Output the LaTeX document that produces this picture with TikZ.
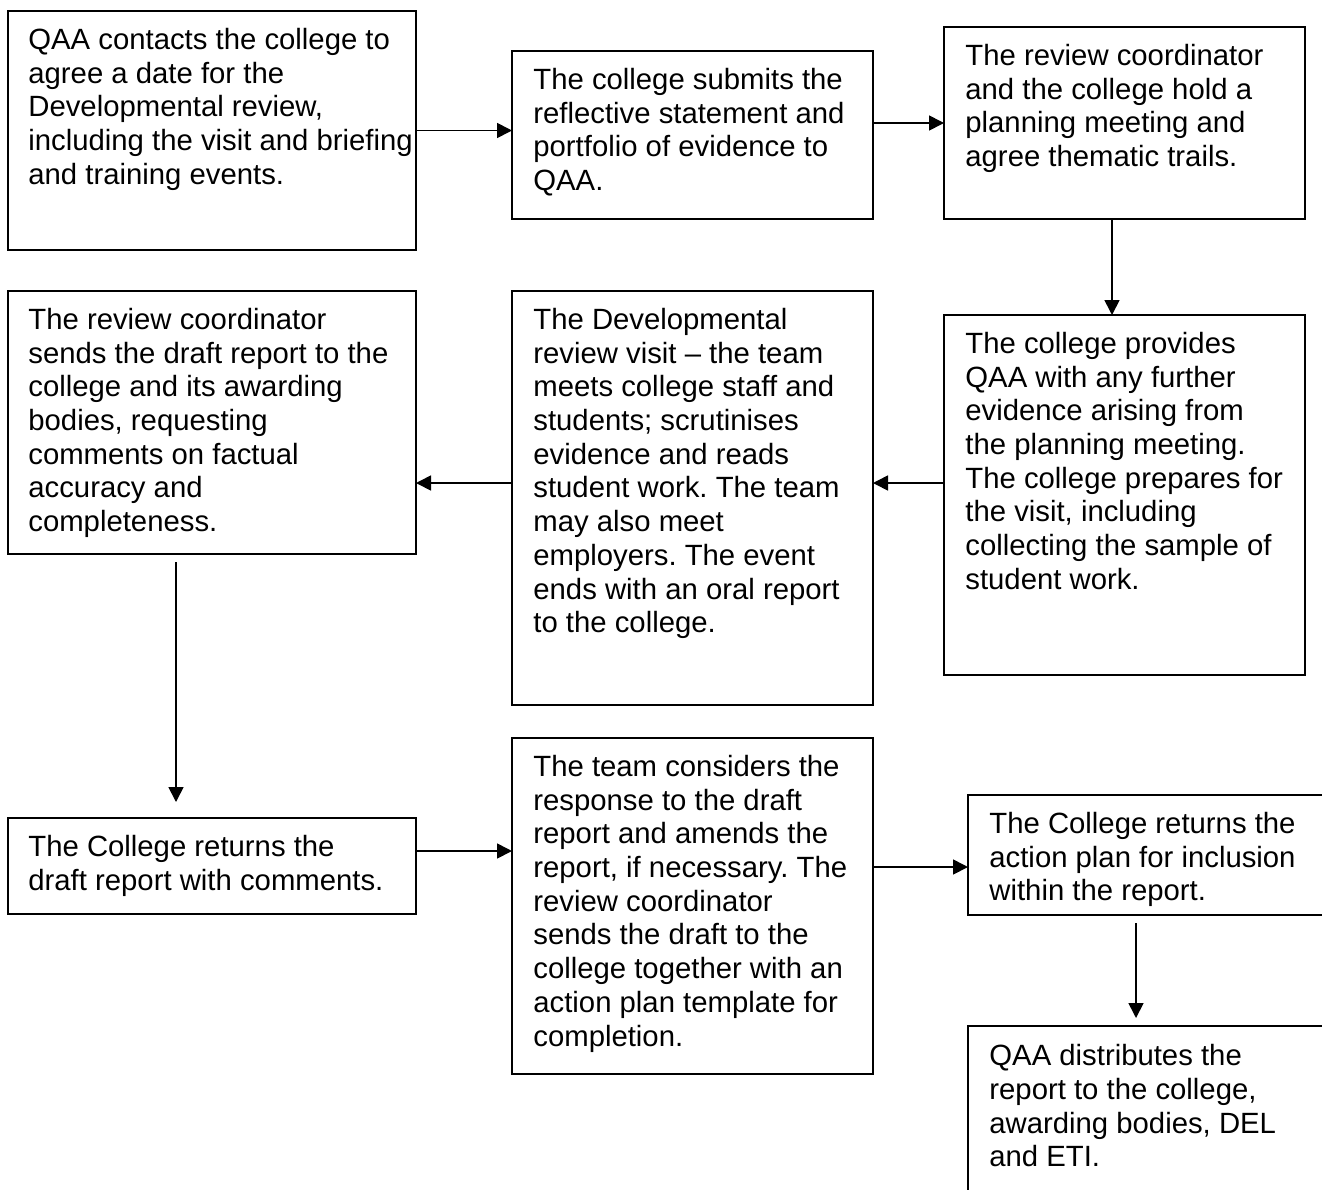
\documentclass[tikz,border=0pt]{standalone}
\usepackage{fontspec}
\setmainfont{Liberation Sans}
\usetikzlibrary{arrows.meta}
\frenchspacing
\begin{document}
\begin{tikzpicture}[x=0.5pt,y=-0.5pt,
  box/.style={draw, line width=0.9pt, inner sep=0pt, outer sep=0pt},
  txt/.style={anchor=north west, inner sep=0pt, align=left, font=\frenchspacing\fontsize{14.65pt}{16.85pt}\selectfont},
  arr/.style={line width=0.85pt, -{Triangle[length=7.5pt,width=7.5pt]}}
]
\useasboundingbox (0,0) rectangle (1322,1189);
\fill[white] (0,0) rectangle (1322,1189);
\clip (0,0) rectangle (1322,1189);

\node[box, minimum width=204pt,   minimum height=119.5pt] (A) at (212,130.5) {};
\node[box, minimum width=180.5pt, minimum height=84pt]    (B) at (692.5,135) {};
\node[box, minimum width=180.5pt, minimum height=96pt]    (C) at (1124.5,123) {};
\node[box, minimum width=180.5pt, minimum height=180pt]   (D) at (1124.5,495) {};
\node[box, minimum width=180.5pt, minimum height=207pt]   (E) at (692.5,498) {};
\node[box, minimum width=204pt,   minimum height=131.5pt] (F) at (212,422.5) {};
\node[box, minimum width=204pt,   minimum height=48pt]    (G) at (212,866) {};
\node[box, minimum width=180.5pt, minimum height=168pt]   (H) at (692.5,906) {};
\node[box, minimum width=186pt,   minimum height=60pt]    (I) at (1154,855) {};
\node[box, minimum width=186pt,   minimum height=97pt]    (J) at (1154,1123) {};

\node[txt] (At) at ([xshift=10pt,yshift=-7.2pt]A.north west) {\strut QAA contacts the college to\\agree a date for the\\Developmental review,\\including the visit and briefing\\and training events.};
\node[txt] (Bt) at ([xshift=10.5pt,yshift=-7.2pt]B.north west) {\strut The college submits the\\reflective statement and\\portfolio of evidence to\\QAA.};
\node[txt] (Ct) at ([xshift=10.5pt,yshift=-7.2pt]C.north west) {\strut The review coordinator\\and the college hold a\\planning meeting and\\agree thematic trails.};
\node[txt] (Dt) at ([xshift=10.5pt,yshift=-7.2pt]D.north west) {\strut The college provides\\QAA with any further\\evidence arising from\\the planning meeting.\\The college prepares for\\the visit, including\\collecting the sample of\\student work.};
\node[txt] (Et) at ([xshift=10.5pt,yshift=-7.2pt]E.north west) {\strut The Developmental\\review visit – the team\\meets college staff and\\students; scrutinises\\evidence and reads\\student work. The team\\may also meet\\employers. The event\\ends with an oral report\\to the college.};
\node[txt] (Ft) at ([xshift=10pt,yshift=-7.2pt]F.north west) {\strut The review coordinator\\sends the draft report to the\\college and its awarding\\bodies, requesting\\comments on factual\\accuracy and\\completeness.};
\node[txt] (Gt) at ([xshift=10pt,yshift=-7.2pt]G.north west) {\strut The College returns the\\draft report with comments.};
\node[txt] (Ht) at ([xshift=10.5pt,yshift=-7.2pt]H.north west) {\strut The team considers the\\response to the draft\\report and amends the\\report, if necessary. The\\review coordinator\\sends the draft to the\\college together with an\\action plan template for\\completion.};
\node[txt] (It) at ([xshift=10.5pt,yshift=-7.2pt]I.north west) {\strut The College returns the\\action plan for inclusion\\within the report.};
\node[txt] (Jt) at ([xshift=10.5pt,yshift=-7.8pt]J.north west) {\strut QAA distributes the\\report to the college,\\awarding bodies, DEL\\and ETI.};

\draw[arr] (A.east) -- (A.east -| B.west);
\draw[arr] (C.west -| B.east) -- (C.west);
\draw[arr] ([xshift=-6.25pt]C.south) -- ([xshift=-6.25pt]D.north);
\draw[arr] ([yshift=6pt]D.west) -- ([yshift=6pt]D.west -| E.east);
\draw[arr] ([yshift=7.5pt]E.west) -- ([yshift=7.5pt]E.west -| F.east);
\draw[arr, shorten <=4pt, shorten >=8pt] ([xshift=-18pt]F.south) -- ([xshift=-18pt]G.north);
\draw[arr] ([yshift=7.5pt]G.east) -- ([yshift=7.5pt]G.east -| H.west);
\draw[arr] ([yshift=-6pt]I.west -| H.east) -- ([yshift=-6pt]I.west);
\draw[arr, shorten <=4pt, shorten >=4pt] ([xshift=-9pt]I.south) -- ([xshift=-9pt]J.north);
\end{tikzpicture}
\end{document}
